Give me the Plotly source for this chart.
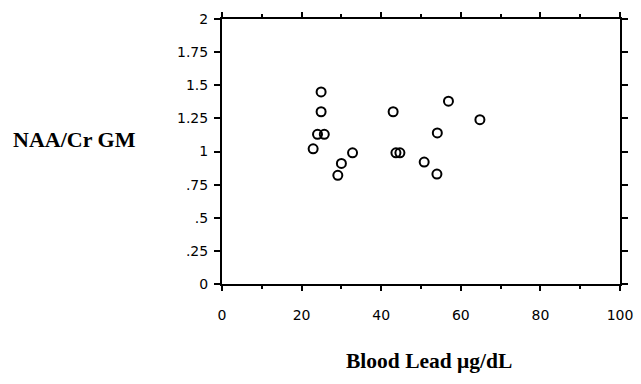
import plotly.graph_objects as go

blood_lead = [24.9, 24.9, 24.0, 25.7, 22.9, 30.0, 29.1, 32.8, 43.0, 43.7, 44.7, 50.8, 54.1, 54.0, 56.9, 64.8]
naa_cr_gm = [1.45, 1.30, 1.13, 1.13, 1.02, 0.91, 0.82, 0.99, 1.30, 0.99, 0.99, 0.92, 1.14, 0.83, 1.38, 1.24]

y_tickvals = [0, 0.25, 0.5, 0.75, 1, 1.25, 1.5, 1.75, 2]
y_ticktext = ["0", ".25", ".5", ".75", "1", "1.25", "1.5", "1.75", "2"]
x_tickvals = [0, 20, 40, 60, 80, 100]
x_ticktext = ["0", "20", "40", "60", "80", "100"]

W, H = 641, 384
L, R, T, B = 222, 21, 19, 100

fig = go.Figure()
fig.add_trace(go.Scatter(
    x=blood_lead, y=naa_cr_gm, mode="markers",
    marker=dict(symbol="circle-open", size=9, color="black", line=dict(width=2, color="black")),
    showlegend=False, cliponaxis=False,
))

fig.update_layout(
    width=W, height=H,
    margin=dict(l=L, r=R, t=T, b=B, autoexpand=False),
    paper_bgcolor="white", plot_bgcolor="white",
    font=dict(family="DejaVu Sans, Arial, sans-serif", size=14, color="black"),
    xaxis=dict(
        range=[0, 100], tickvals=x_tickvals, ticktext=x_ticktext,
        ticks="outside", ticklen=5, tickwidth=2, tickcolor="black",
        minor=dict(dtick=10, ticklen=3, tickwidth=2, tickcolor="black", ticks="outside"),
        showline=True, linewidth=2, linecolor="black", mirror="allticks",
        showgrid=False, zeroline=False, ticklabelstandoff=12,
    ),
    yaxis=dict(
        range=[0, 2], tickvals=y_tickvals, ticktext=y_ticktext,
        ticks="outside", ticklen=6, tickwidth=2, tickcolor="black",
        showline=True, linewidth=2, linecolor="black", mirror="allticks",
        showgrid=False, zeroline=False, ticklabelstandoff=3,
    ),
)

pw = W - L - R
ph = H - T - B
def to_paper(px, py):
    return (px - L) / pw, (H - B - py) / ph

for text, px, py, sz in [("<b>NAA/Cr GM</b>", 74, 139, 22), ("<b>Blood Lead μg/dL</b>", 429, 361, 21.5)]:
    ax, ay = to_paper(px, py)
    fig.add_annotation(text=text, x=ax, y=ay, xref="paper", yref="paper", showarrow=False,
                       xanchor="center", yanchor="middle",
                       font=dict(family="Liberation Serif, Times New Roman, serif", size=sz))

fig.write_html("out.html", config={"displayModeBar": False},
               post_script="document.body.style.margin='0';")
